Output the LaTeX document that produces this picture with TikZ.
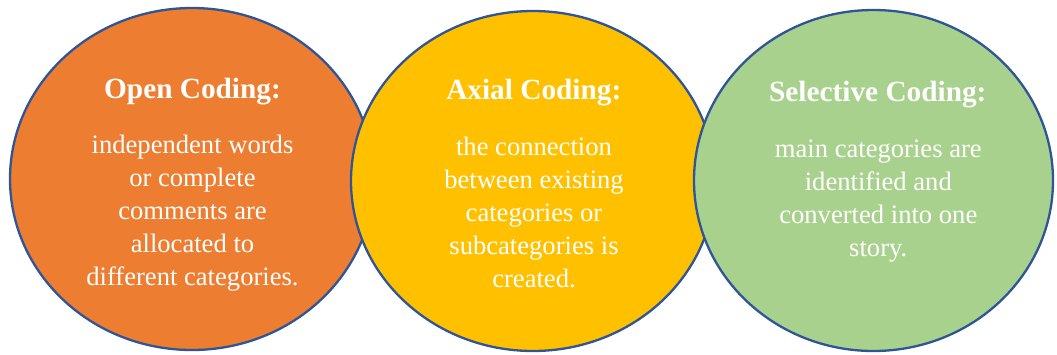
\documentclass[tikz,border=0pt]{standalone}
\usepackage{fontspec}
\setmainfont{Liberation Serif}
\usetikzlibrary{shapes.geometric}

\definecolor{openfill}{HTML}{ED7D31}
\definecolor{axialfill}{HTML}{FFC000}
\definecolor{selectfill}{HTML}{A9D18E}
\definecolor{rim}{HTML}{2F5597}

\tikzset{
  phase/.style={ellipse, draw=rim, line width=2.3pt, inner sep=0pt},
  heading/.style={anchor=base, text=white, inner sep=0pt,
    font=\fontsize{29.3}{33}\selectfont\bfseries},
  blurb/.style={anchor=north, text=white, inner sep=0pt, align=center,
    font=\fontsize{26.6}{33}\selectfont},
}

\begin{document}
\begin{tikzpicture}[x=1pt, y=-1pt]
  \useasboundingbox (0,0) rectangle (1057,354);

  % the three coding phases, each overlapping the previous one
  \node[phase, fill=openfill, minimum width=364pt, minimum height=342pt]
    (open) at (192,179) {};
  \node[phase, fill=axialfill, minimum width=364pt, minimum height=340pt]
    (axial) at (533,181) {};
  \node[phase, fill=selectfill, minimum width=359pt, minimum height=341pt]
    (select) at (873.5,180.5) {};

  % headings (placed on their baselines)
  \node[heading] (openhead) at (192.5,98.3) {Open Coding:};
  \node[heading] (axialhead) at (533.8,99.2) {Axial Coding:};
  \node[heading] (selecthead) at (877.8,101.8) {Selective Coding:};

  % descriptions: the strut fixes the first baseline 23.1pt below the top
  \node[blurb] (opentext) at (192.5,153.4-23.1)
    {\strut independent words\\ or complete\\ comments are\\ allocated to\\ different categories.};
  \node[blurb] (axialtext) at (534,155.2-23.1)
    {\strut the connection\\ between existing\\ categories or\\ subcategories is\\ created.};
  \node[blurb] (selecttext) at (878.3,156.8-23.1)
    {\strut main categories are\\ identified and\\ converted into one\\ story.};
\end{tikzpicture}
\end{document}
